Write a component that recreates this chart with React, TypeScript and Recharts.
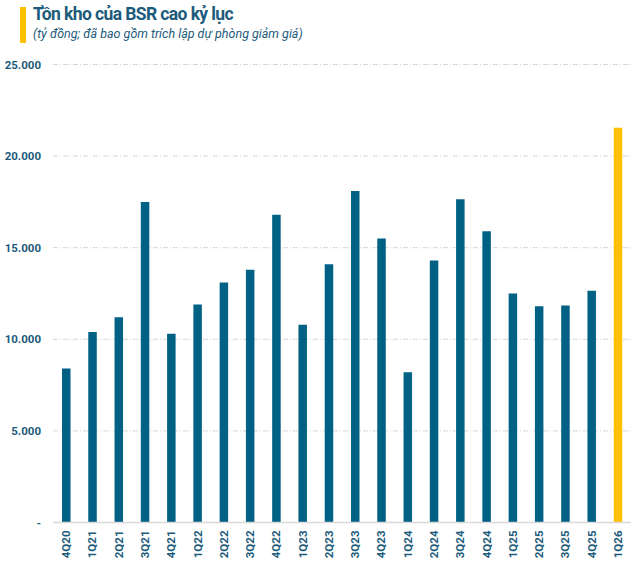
import * as React from 'react'
import { BarChart, Bar, XAxis, YAxis, CartesianGrid, Cell } from 'recharts'

const quarters = [
  '4Q20', '1Q21', '2Q21', '3Q21', '4Q21', '1Q22', '2Q22', '3Q22', '4Q22', '1Q23', '2Q23',
  '3Q23', '4Q23', '1Q24', '2Q24', '3Q24', '4Q24', '1Q25', '2Q25', '3Q25', '4Q25', '1Q26',
]
const inventory = [
  8400, 10400, 11200, 17500, 10300, 11900, 13100, 13800, 16800, 10800, 14100,
  18100, 15500, 8200, 14300, 17650, 15900, 12500, 11800, 11850, 12650, 21550,
]
const yTicks = [0, 5000, 10000, 15000, 20000, 25000]

const data = quarters.map((q, i) => ({ q, value: inventory[i] }))

const TEAL = '#006184'
const TEXT = '#1c5b7b'
const GOLD = '#ffc000'
const FONT = "Roboto, 'Liberation Sans', sans-serif"

const fmt = (v: number) => (v === 0 ? '-' : String(v).replace(/\B(?=(\d{3})+(?!\d))/g, '.'))

const QuarterTick = (props: any) => {
  const { x, y, payload } = props
  return (
    <g transform={`translate(${x},${y + 8})`}>
      <text
        transform="rotate(-90)"
        textAnchor="end"
        dy={4}
        fontSize={11.5}
        fontWeight={700}
        fill={TEXT}
        fontFamily={FONT}
      >
        {payload.value}
      </text>
    </g>
  )
}

export default function App() {
  return (
    <div style={{ position: 'absolute', left: 0, top: 0, width: 640, height: 569, background: '#fff' }}>
      <div style={{ position: 'absolute', left: 20, top: 7, width: 6, height: 36, background: GOLD }} />
      <div
        style={{
          position: 'absolute', left: 33, top: 4, color: TEXT, fontWeight: 700, fontSize: 17.5,
          fontFamily: FONT, letterSpacing: -0.6, whiteSpace: 'nowrap',
        }}
      >
        Tồn kho của BSR cao kỷ lục
      </div>
      <div
        style={{
          position: 'absolute', left: 33, top: 26, color: TEXT, fontStyle: 'italic', fontSize: 12.5,
          fontFamily: FONT, whiteSpace: 'nowrap',
        }}
      >
        (tỷ đồng; đã bao gồm trích lập dự phòng giảm giá)
      </div>
      <BarChart
        width={640}
        height={569}
        data={data}
        margin={{ top: 64.5, right: 9, left: 0, bottom: 6.5 }}
        style={{ position: 'absolute', left: 0, top: 0 }}
      >
        <CartesianGrid vertical={false} stroke="#d6d6d6" strokeDasharray="5 2 1 2" />
        <XAxis
          dataKey="q"
          interval={0}
          height={40}
          tickLine={false}
          tickSize={0}
          tickMargin={0}
          axisLine={{ stroke: '#d9d9d9', strokeWidth: 1.5 }}
          tick={<QuarterTick />}
        />
        <YAxis
          width={53}
          domain={[0, 25000]}
          ticks={yTicks}
          tickFormatter={fmt}
          axisLine={false}
          tickLine={false}
          tickSize={0}
          tickMargin={12}
          tick={{ fontSize: 11.5, fontWeight: 700, fill: TEXT, fontFamily: FONT }}
        />
        <Bar dataKey="value" barSize={8.5} isAnimationActive={false}>
          {data.map((d, i) => (
            <Cell key={d.q} fill={i === data.length - 1 ? GOLD : TEAL} />
          ))}
        </Bar>
      </BarChart>
    </div>
  )
}
